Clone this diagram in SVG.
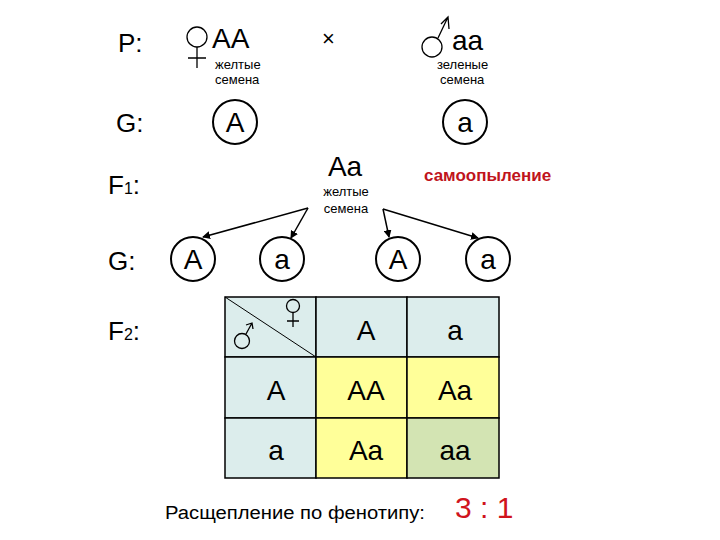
<svg xmlns="http://www.w3.org/2000/svg" width="720" height="540" viewBox="0 0 720 540">
<style>
text{font-family:"Liberation Sans",Arial,sans-serif;fill:#000}
.big{font-size:28px}
.lab{font-size:26px}
.sm{font-size:13px}
.c{fill:none;stroke:#000;stroke-width:2}
.s{fill:none;stroke:#000;stroke-width:1.3}
.cell{stroke:#000;stroke-width:1.5}
</style>
<defs><marker id="ah" markerWidth="8" markerHeight="8" refX="7" refY="4" orient="auto" markerUnits="userSpaceOnUse"><path d="M0,0 L8,4 L0,8 Z" fill="#000"/></marker></defs>
<rect width="720" height="540" fill="#fff"/>
<g id="labels">
<text x="118" y="52" class="lab">P:</text>
<text x="116" y="132" class="lab">G:</text>
<text x="108" y="194" class="lab">F<tspan font-size="16">1</tspan>:</text>
<text x="108" y="270" class="lab">G:</text>
<text x="108" y="340" class="lab">F<tspan font-size="16">2</tspan>:</text>
</g>
<g id="p-female">
<circle cx="197" cy="37" r="10" class="s"/><path d="M197 47V68M188 58H206" class="s"/>
<text x="212" y="48" class="big">AA</text>
<text x="215" y="69" class="sm">желтые</text><text x="215" y="84" class="sm">семена</text>
</g>
<text x="322" y="46" font-size="22">×</text>
<g id="p-male">
<circle cx="432" cy="47" r="10" class="s"/><path d="M438 38L448 17M441 24L448 17L449 29" class="s"/>
<text x="452" y="50" class="big">aa</text>
<text x="437" y="69" class="sm">зеленые</text><text x="440" y="84" class="sm">семена</text>
</g>
<g id="g1-A"><circle cx="235" cy="122" r="22" class="c"/><text x="235" y="132" class="big" text-anchor="middle">A</text></g>
<g id="g1-a"><circle cx="465" cy="122" r="22" class="c"/><text x="465" y="132" class="big" text-anchor="middle">a</text></g>
<g id="f1"><text x="345" y="176" class="big" text-anchor="middle">Aa</text>
<text x="346" y="196" class="sm" text-anchor="middle">желтые</text><text x="346" y="213" class="sm" text-anchor="middle">семена</text></g>
<text x="424" y="181" font-size="17" font-weight="bold" style="fill:#c0141c">самоопыление</text>
<g id="g2-1"><circle cx="193" cy="259" r="22" class="c"/><text x="193" y="269" class="big" text-anchor="middle">A</text></g>
<g id="g2-2"><circle cx="282" cy="259" r="22" class="c"/><text x="282" y="269" class="big" text-anchor="middle">a</text></g>
<g id="g2-3"><circle cx="398" cy="259" r="22" class="c"/><text x="398" y="269" class="big" text-anchor="middle">A</text></g>
<g id="g2-4"><circle cx="488" cy="259" r="22" class="c"/><text x="488" y="269" class="big" text-anchor="middle">a</text></g>
<g id="connectors" stroke="#000" stroke-width="1.5" fill="none">
<line x1="308" y1="208" x2="203" y2="237" marker-end="url(#ah)"/>
<line x1="308" y1="208" x2="291" y2="238" marker-end="url(#ah)"/>
<line x1="383" y1="209" x2="389" y2="237" marker-end="url(#ah)"/>
<line x1="383" y1="209" x2="478" y2="238" marker-end="url(#ah)"/>
</g>
<g id="table">
<rect x="225" y="297" width="91" height="60" fill="#dcedec" class="cell"/>
<rect x="316" y="297" width="91" height="60" fill="#dcedec" class="cell"/>
<rect x="407" y="297" width="92" height="60" fill="#dcedec" class="cell"/>
<rect x="225" y="357" width="91" height="61" fill="#dcedec" class="cell"/>
<rect x="316" y="357" width="91" height="61" fill="#ffff99" class="cell"/>
<rect x="407" y="357" width="92" height="61" fill="#ffff99" class="cell"/>
<rect x="225" y="418" width="91" height="60" fill="#dcedec" class="cell"/>
<rect x="316" y="418" width="91" height="60" fill="#ffff99" class="cell"/>
<rect x="407" y="418" width="92" height="60" fill="#d3e4b3" class="cell"/>
<line x1="225" y1="297" x2="316" y2="357" stroke="#000" stroke-width="1"/>
<circle cx="293" cy="306" r="6.5" class="s"/><path d="M293 312.5V327M287 321H299" class="s"/>
<circle cx="242" cy="341" r="7.5" class="s"/><path d="M246 334L252 323M246 325L252 323L253 329" class="s"/>
<text x="366" y="340" class="big" text-anchor="middle">A</text>
<text x="455" y="340" class="big" text-anchor="middle">a</text>
<text x="276" y="400" class="big" text-anchor="middle">A</text>
<text x="366" y="400" class="big" text-anchor="middle">AA</text>
<text x="455" y="400" class="big" text-anchor="middle">Aa</text>
<text x="276" y="460" class="big" text-anchor="middle">a</text>
<text x="366" y="460" class="big" text-anchor="middle">Aa</text>
<text x="455" y="460" class="big" text-anchor="middle">aa</text>
</g>
<text x="165" y="519" font-size="18" textLength="260" lengthAdjust="spacingAndGlyphs">Расщепление по фенотипу:</text>
<text x="455" y="518" font-size="30" style="fill:#d0141c">3 : 1</text>
</svg>
